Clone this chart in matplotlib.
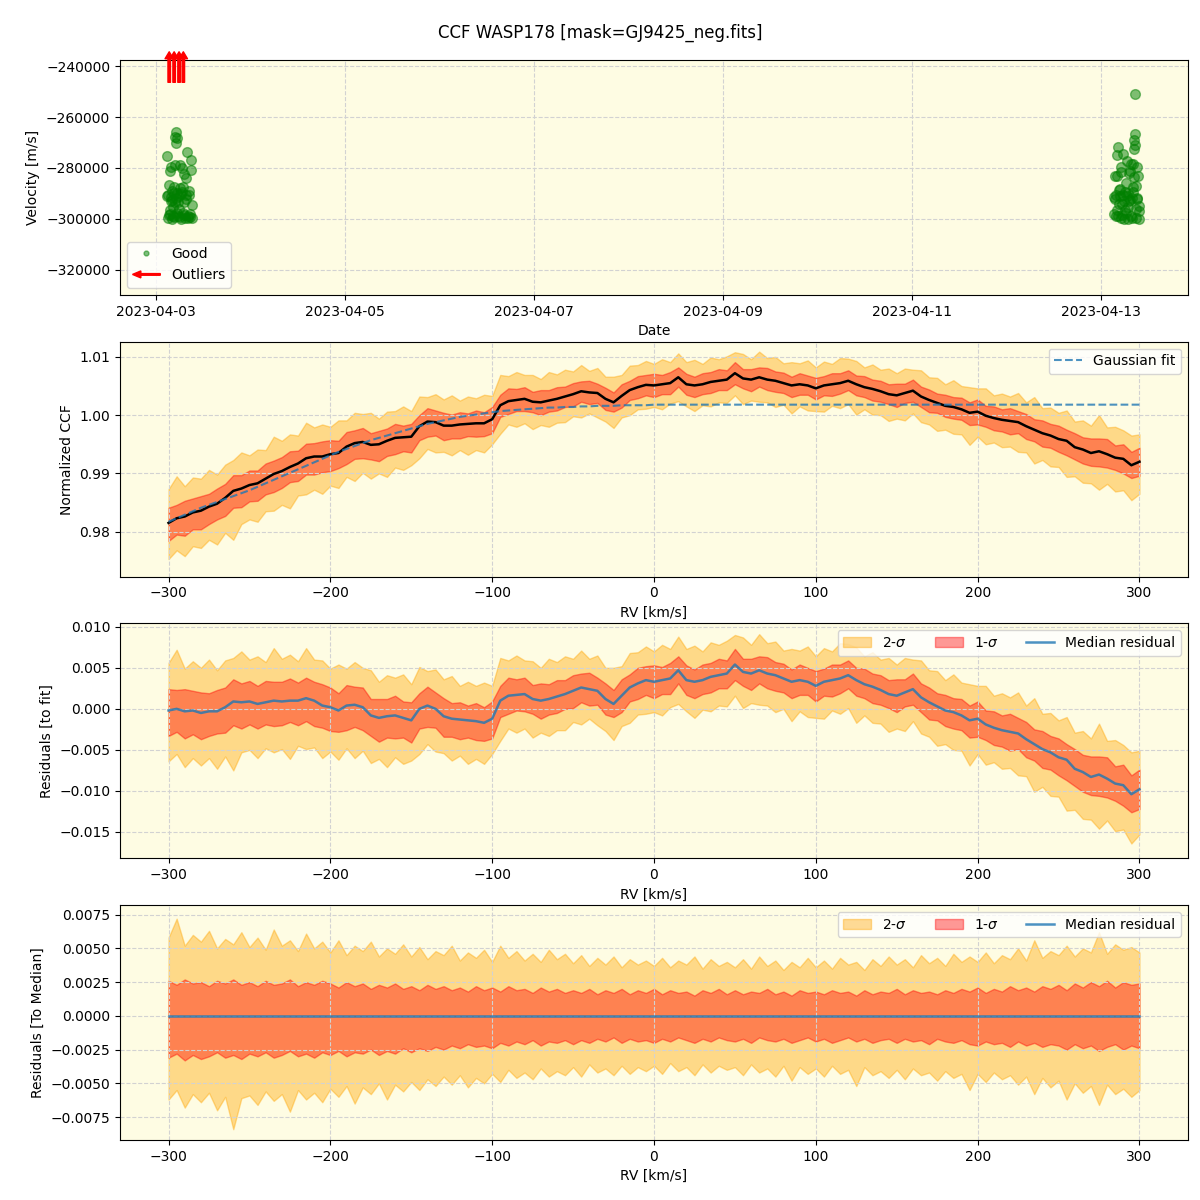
import numpy as np
import pandas as pd
import matplotlib
matplotlib.use("Agg")
import matplotlib.pyplot as plt
import matplotlib.dates as mdates
from matplotlib.patches import FancyArrow
from matplotlib.legend_handler import HandlerPatch

# --- top panel: RV time series (m/s)
good_times = [
    "2023-04-03 02:45", "2023-04-03 02:50", "2023-04-03 03:00", "2023-04-03 03:05", "2023-04-03 03:15",
    "2023-04-03 03:25", "2023-04-03 03:30", "2023-04-03 03:40", "2023-04-03 03:45", "2023-04-03 03:55",
    "2023-04-03 04:05", "2023-04-03 04:10", "2023-04-03 04:20", "2023-04-03 04:30", "2023-04-03 04:35",
    "2023-04-03 04:45", "2023-04-03 04:50", "2023-04-03 05:00", "2023-04-03 05:05", "2023-04-03 05:10",
    "2023-04-03 05:15", "2023-04-03 05:25", "2023-04-03 05:30", "2023-04-03 05:40", "2023-04-03 05:50",
    "2023-04-03 06:00", "2023-04-03 06:05", "2023-04-03 06:15", "2023-04-03 06:25", "2023-04-03 06:35",
    "2023-04-03 06:45", "2023-04-03 06:50", "2023-04-03 07:00", "2023-04-03 07:10", "2023-04-03 07:20",
    "2023-04-03 07:30", "2023-04-03 07:40", "2023-04-03 07:55", "2023-04-03 08:00", "2023-04-03 08:15",
    "2023-04-03 08:30", "2023-04-03 08:45", "2023-04-03 08:50", "2023-04-03 09:00", "2023-04-03 09:05",
    "2023-04-03 03:10", "2023-04-03 03:50", "2023-04-03 04:15", "2023-04-03 04:40", "2023-04-03 05:20",
    "2023-04-03 05:45", "2023-04-03 06:10", "2023-04-03 06:40", "2023-04-03 07:05", "2023-04-03 07:35",
    "2023-04-03 08:05", "2023-04-03 08:25", "2023-04-03 08:40", "2023-04-03 03:35", "2023-04-03 04:55",
    "2023-04-13 03:10", "2023-04-13 03:30", "2023-04-13 03:35", "2023-04-13 03:50", "2023-04-13 04:00",
    "2023-04-13 04:05", "2023-04-13 04:20", "2023-04-13 04:25", "2023-04-13 04:30", "2023-04-13 04:40",
    "2023-04-13 04:50", "2023-04-13 05:00", "2023-04-13 05:10", "2023-04-13 05:15", "2023-04-13 05:30",
    "2023-04-13 05:35", "2023-04-13 05:45", "2023-04-13 06:00", "2023-04-13 06:05", "2023-04-13 06:15",
    "2023-04-13 06:30", "2023-04-13 06:35", "2023-04-13 06:50", "2023-04-13 06:55", "2023-04-13 07:05",
    "2023-04-13 07:20", "2023-04-13 07:25", "2023-04-13 07:35", "2023-04-13 07:45", "2023-04-13 07:50",
    "2023-04-13 08:00", "2023-04-13 08:10", "2023-04-13 08:15", "2023-04-13 08:20", "2023-04-13 08:25",
    "2023-04-13 08:30", "2023-04-13 08:38", "2023-04-13 08:40", "2023-04-13 08:45", "2023-04-13 08:55",
    "2023-04-13 09:05", "2023-04-13 09:10", "2023-04-13 09:25", "2023-04-13 09:35", "2023-04-13 09:45",
    "2023-04-13 03:20", "2023-04-13 03:45", "2023-04-13 04:10", "2023-04-13 04:45", "2023-04-13 05:20",
    "2023-04-13 05:50", "2023-04-13 06:20", "2023-04-13 06:45", "2023-04-13 07:10", "2023-04-13 07:40",
    "2023-04-13 08:05", "2023-04-13 08:50", "2023-04-13 09:15", "2023-04-13 09:40", "2023-04-13 05:05",
]
good_vel = [
    -291000, -275300, -299800, -290500, -286500, -281000, -298000, -293000, -279500, -300000,
    -289000, -292700, -295400, -287500, -299200, -267700, -279000, -291700, -265700, -270300,
    -289800, -268300, -298700, -293400, -296000, -278900, -288000, -300000, -290300, -280200,
    -287500, -297500, -293400, -282200, -299500, -290800, -283800, -273900, -298700, -289000,
    -299300, -276900, -280900, -294500, -299600,
    -298500, -291500, -299000, -290000, -297800, -291000, -299200, -289500, -298300, -292000,
    -299800, -290500, -298000, -296500, -293500,
    -291500, -292200, -283000, -298800, -275100, -283000, -271800, -298800, -288500, -294000,
    -288300, -299500, -279700, -294200, -274500, -290500, -299900, -289600, -296500, -286000,
    -277100, -291000, -295500, -299900, -282000, -281000, -292500, -278500, -299500, -291600,
    -287500, -278400, -283700, -269200, -272500, -266800, -250800, -270800, -299500, -287200,
    -279700, -291600, -283000, -294900, -299900,
    -298000, -290500, -296500, -291000, -298300, -292800, -297500, -290000, -293000, -298800,
    -289500, -296000, -292300, -297000, -281500,
]
outlier_times = ["2023-04-03 03:20", "2023-04-03 04:35", "2023-04-03 05:50", "2023-04-03 06:55"]

# --- CCF profile, sampled every 5 km/s from -300 to 300
rv = np.arange(-300, 305, 5)

gauss_fit = [
    0.9817, 0.9823, 0.9829, 0.9835, 0.9841, 0.9846, 0.9851, 0.9856, 0.9861, 0.9866,
    0.9871, 0.9877, 0.9883, 0.9889, 0.9895, 0.9901, 0.9907, 0.9913, 0.9919, 0.9925,
    0.9931, 0.9937, 0.9942, 0.9947, 0.9952, 0.9957, 0.9961, 0.9965, 0.9969, 0.9973,
    0.9977, 0.9981, 0.9985, 0.9988, 0.9991, 0.9994, 0.9997, 0.9999, 1.0001, 1.0003,
    1.0005, 1.0007, 1.0008, 1.0009, 1.0010, 1.0011, 1.0012, 1.0013, 1.0013, 1.0014,
    1.0014, 1.0015, 1.0015, 1.0016, 1.0016, 1.0016, 1.0017, 1.0017, 1.0017, 1.0017,
    1.0018,
] + [1.0018] * 60

# median residual to the fit (x1e-4)
resid_med = np.array([
    -2, 0, -3, -2, -5, -3, -3, 2, 9, 8,
    9, 6, 8, 10, 9, 10, 10, 13, 10, 4,
    2, -2, 4, 5, 2, -8, -11, -9, -8, -11,
    -14, 0, 4, 0, -9, -12, -13, -14, -15, -17,
    -12, 10, 16, 17, 18, 12, 10, 12, 15, 18,
    22, 26, 24, 22, 12, 6, 16, 26, 31, 35,
    33, 35, 37, 47, 35, 33, 35, 39, 41, 43,
    54, 45, 43, 47, 43, 41, 37, 33, 35, 33,
    28, 33, 35, 37, 41, 35, 30, 27, 23, 18,
    16, 20, 24, 14, 8, 3, -2, -4, -8, -14,
    -12, -19, -23, -26, -28, -30, -37, -43, -49, -53,
    -59, -62, -73, -77, -83, -80, -85, -91, -93, -104,
    -98,
]) * 1e-4

# percentile bands relative to the median (x1e-4)
hi2 = np.array([
    58, 72, 52, 60, 55, 63, 50, 57, 53, 62,
    51, 58, 49, 64, 52, 56, 48, 61, 50, 55,
    47, 56, 45, 52, 48, 55, 44, 50, 46, 53,
    44, 51, 42, 48, 45, 52, 41, 47, 43, 49,
    40, 52, 43, 48, 41, 46, 40, 49, 42, 46,
    39, 45, 37, 43, 38, 44, 36, 42, 38, 41,
    37, 43, 36, 41, 38, 44, 35, 42, 37, 40,
    36, 42, 35, 44, 37, 41, 34, 40, 36, 43,
    36, 41, 35, 43, 38, 40, 34, 42, 37, 44,
    38, 42, 36, 45, 39, 43, 37, 46, 40, 44,
    40, 47, 39, 45, 42, 50, 41, 56, 43, 48,
    45, 52, 44, 50, 47, 62, 46, 53, 49, 51,
    47,
]) * 1e-4
hi1 = np.array([
    26, 23, 27, 24, 25, 22, 26, 24, 27, 23,
    25, 22, 26, 23, 24, 27, 22, 25, 23, 26,
    24, 21, 25, 22, 24, 20, 23, 21, 24, 20,
    22, 19, 23, 20, 22, 19, 21, 18, 22, 19,
    21, 18, 22, 19, 20, 17, 21, 18, 20, 17,
    19, 17, 20, 16, 19, 17, 20, 16, 19, 17,
    20, 16, 19, 17, 18, 15, 19, 17, 20, 16,
    19, 16, 18, 17, 20, 16, 18, 15, 19, 17,
    18, 16, 19, 17, 18, 15, 19, 16, 18, 17,
    20, 16, 19, 17, 18, 16, 19, 17, 20, 18,
    21, 17, 20, 18, 22, 19, 21, 18, 22, 20,
    23, 19, 24, 21, 25, 22, 26, 21, 25, 23,
    24,
]) * 1e-4
lo1 = np.array([
    -31, -28, -33, -29, -32, -30, -27, -31, -29, -32,
    -28, -30, -27, -31, -29, -26, -30, -28, -31, -27,
    -29, -26, -30, -27, -28, -25, -29, -26, -28, -24,
    -27, -24, -26, -23, -25, -22, -24, -21, -23, -22,
    -24, -20, -22, -19, -21, -18, -22, -19, -20, -18,
    -21, -18, -20, -17, -19, -16, -20, -17, -19, -18,
    -20, -17, -19, -16, -18, -20, -17, -19, -16, -18,
    -19, -17, -20, -16, -18, -19, -17, -20, -18, -16,
    -19, -17, -20, -18, -16, -19, -17, -20, -18, -17,
    -20, -17, -19, -18, -21, -17, -19, -20, -18, -21,
    -22, -19, -21, -20, -23, -19, -22, -20, -23, -21,
    -22, -25, -21, -24, -22, -26, -23, -21, -25, -22,
    -24,
]) * 1e-4
lo2 = np.array([
    -62, -55, -68, -58, -64, -57, -70, -60, -84, -61,
    -59, -66, -56, -63, -58, -71, -55, -62, -57, -64,
    -54, -60, -52, -65, -53, -58, -50, -62, -51, -56,
    -49, -55, -47, -52, -45, -51, -44, -53, -46, -50,
    -43, -49, -40, -46, -42, -47, -39, -45, -41, -44,
    -38, -45, -36, -42, -39, -44, -37, -43, -38, -41,
    -37, -43, -35, -41, -38, -44, -36, -42, -37, -40,
    -38, -44, -36, -42, -39, -45, -37, -48, -38, -43,
    -39, -45, -37, -43, -40, -52, -38, -44, -41, -46,
    -40, -47, -39, -44, -42, -48, -41, -46, -43, -55,
    -43, -49, -42, -47, -44, -51, -45, -58, -46, -53,
    -48, -62, -50, -57, -52, -66, -51, -58, -54, -60,
    -55,
]) * 1e-4

gauss_fit = np.array(gauss_fit)
ccf_med = gauss_fit + resid_med

bg = "#fefce3"

fig, axes = plt.subplots(4, 1, figsize=(12, 12), dpi=100)
fig.subplots_adjust(left=0.1, right=0.99, top=0.95, bottom=0.05, hspace=0.2)
fig.suptitle("CCF WASP178 [mask=GJ9425_neg.fits]", fontsize=12)

for ax in axes:
    ax.set_facecolor(bg)
    ax.grid(True, linestyle="--", color="#d2d2d2", linewidth=0.8)

# ---- panel 1
ax1 = axes[0]
t_good = pd.to_datetime(good_times)
ax1.plot(t_good, good_vel, "o", color="green", alpha=0.5, markersize=7, label="Good")
for t in pd.to_datetime(outlier_times):
    xt = mdates.date2num(t)
    ax1.annotate("", xy=(xt, 1.035), xytext=(xt, 0.905),
                 xycoords=("data", "axes fraction"), textcoords=("data", "axes fraction"),
                 arrowprops=dict(facecolor="red", edgecolor="red", width=1.8, headwidth=6, headlength=5),
                 annotation_clip=False)

def make_arrow(legend, orig_handle, xdescent, ydescent, width, height, fontsize):
    return FancyArrow(width - xdescent, height / 2 - ydescent, -width, 0,
                      width=1.2, head_width=5, head_length=6, length_includes_head=True)

arrow_proxy = FancyArrow(0, 0, 1, 0, color="red")
handles, labels = ax1.get_legend_handles_labels()
ax1.legend(handles + [arrow_proxy], labels + ["Outliers"], loc="lower left", markerscale=0.5,
           handler_map={FancyArrow: HandlerPatch(patch_func=make_arrow)})
ax1.set_xlim(pd.Timestamp("2023-04-02 14:50"), pd.Timestamp("2023-04-13 22:05"))
ax1.set_ylim(-329800, -237600)
ax1.set_yticks([-320000, -300000, -280000, -260000, -240000])
ax1.xaxis.set_major_locator(mdates.DayLocator(bymonthday=[3, 5, 7, 9, 11, 13]))
ax1.xaxis.set_major_formatter(mdates.DateFormatter("%Y-%m-%d"))
ax1.set_xlabel("Date")
ax1.set_ylabel("Velocity [m/s]")


def draw_bands(ax, center, labels=False):
    ax.fill_between(rv, center + lo2, center + hi2, color="orange", alpha=0.4,
                    label="2-$\\sigma$" if labels else None)
    ax.fill_between(rv, center + lo1, center + hi1, color="red", alpha=0.4,
                    label="1-$\\sigma$" if labels else None)


# ---- panel 2
ax2 = axes[1]
draw_bands(ax2, ccf_med)
ax2.plot(rv, ccf_med, color="black", linewidth=1.8)
ax2.plot(rv, gauss_fit, "--", color="tab:blue", alpha=0.8, linewidth=1.5, label="Gaussian fit")
ax2.legend(loc="upper right")
ax2.set_ylim(0.9723, 1.0126)
ax2.set_xlabel("RV [km/s]")
ax2.set_ylabel("Normalized CCF")

# ---- panel 3
ax3 = axes[2]
draw_bands(ax3, resid_med, labels=True)
ax3.plot(rv, resid_med, color="tab:blue", alpha=0.8, linewidth=1.8, label="Median residual")
ax3.legend(loc="upper right", ncol=3)
ax3.set_ylim(-0.0182, 0.0104)
ax3.set_xlabel("RV [km/s]")
ax3.set_ylabel("Residuals [to fit]")

# ---- panel 4
ax4 = axes[3]
zero = np.zeros_like(rv, dtype=float)
draw_bands(ax4, zero, labels=True)
ax4.plot(rv, zero, color="tab:blue", alpha=0.8, linewidth=1.8, label="Median residual")
ax4.legend(loc="upper right", ncol=3)
ax4.set_ylim(-0.0092, 0.0082)
ax4.set_xlabel("RV [km/s]")
ax4.set_ylabel("Residuals [To Median]")

for ax in axes[1:]:
    ax.set_xlim(-330, 330)

fig.savefig("out.png", dpi=100)
print("saved")
